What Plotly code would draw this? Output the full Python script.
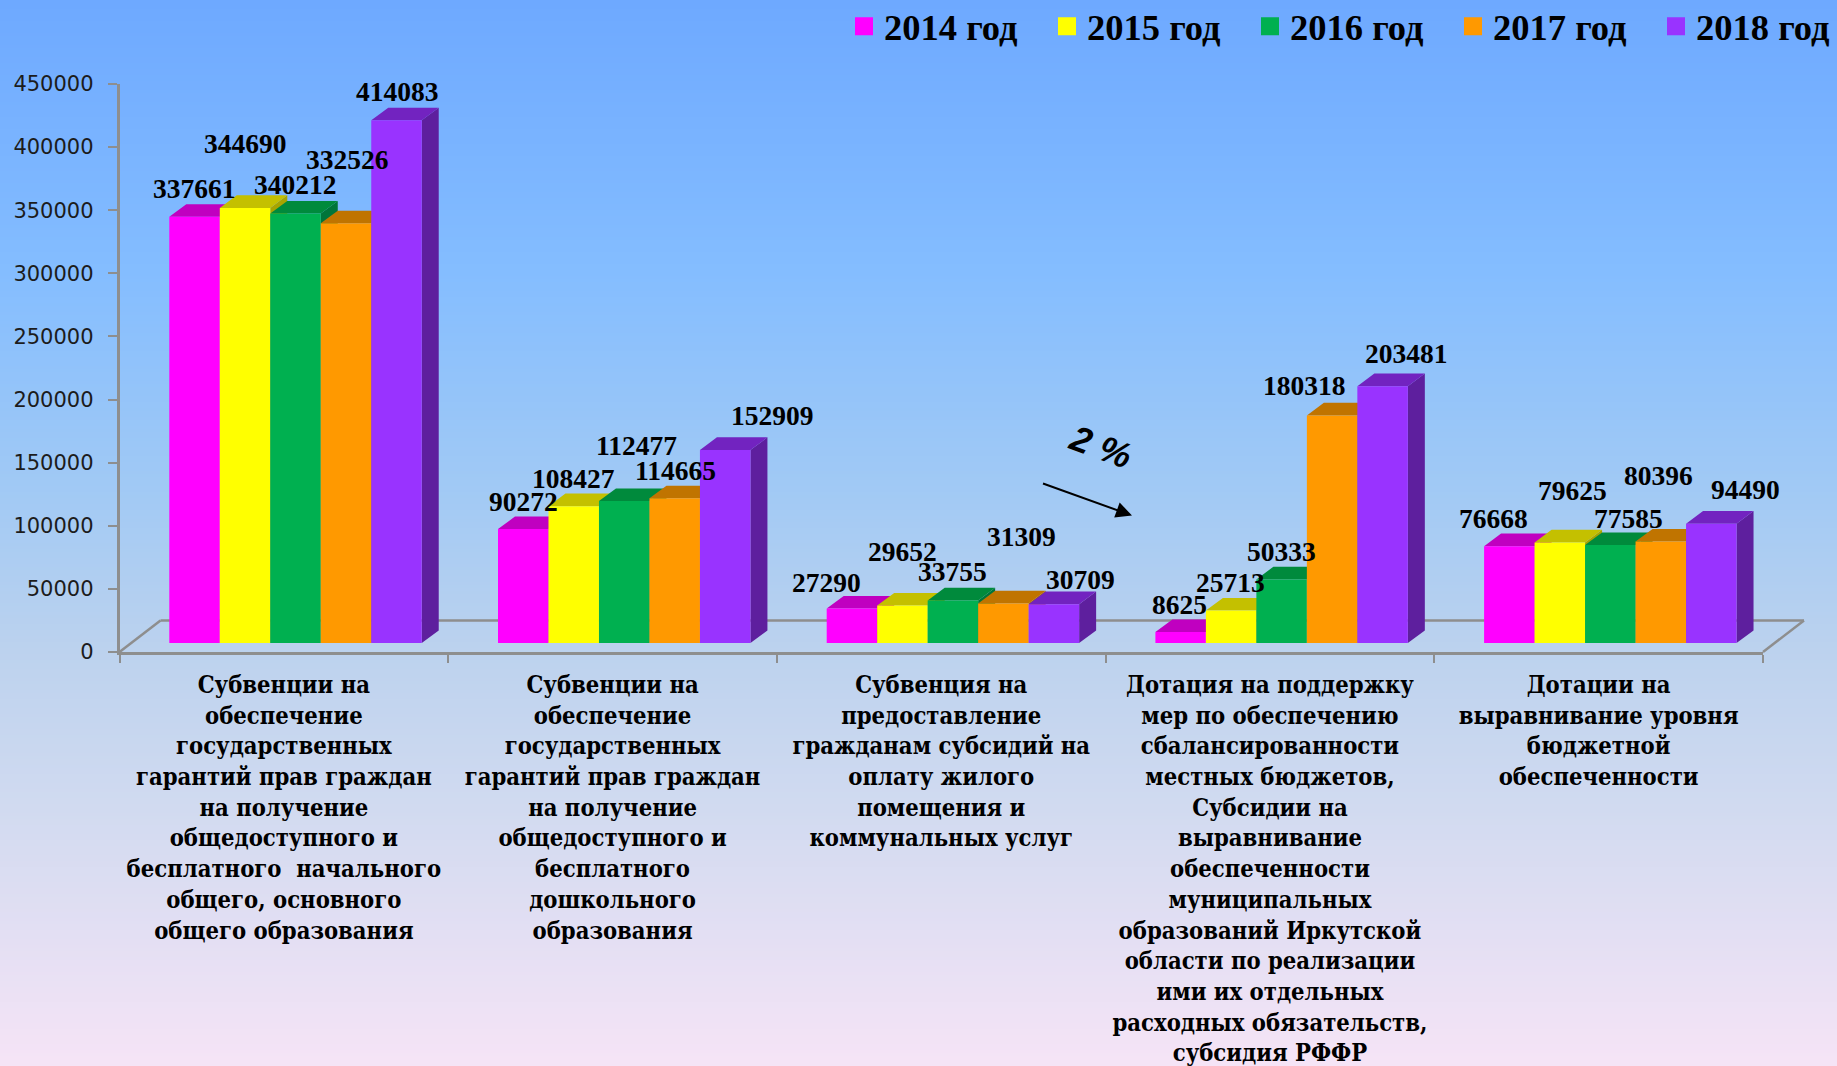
import plotly.graph_objects as go

W, H = 1837, 1066

# ---- data ----
categories = [
    "Субвенции на<br>обеспечение<br>государственных<br>гарантий прав граждан<br>на получение<br>общедоступного и<br>бесплатного  начального<br>общего, основного<br>общего образования",
    "Субвенции на<br>обеспечение<br>государственных<br>гарантий прав граждан<br>на получение<br>общедоступного и<br>бесплатного<br>дошкольного<br>образования",
    "Субвенция на<br>предоставление<br>гражданам субсидий на<br>оплату жилого<br>помещения и<br>коммунальных услуг",
    "Дотация на поддержку<br>мер по обеспечению<br>сбалансированности<br>местных бюджетов,<br>Субсидии на<br>выравнивание<br>обеспеченности<br>муниципальных<br>образований Иркутской<br>области по реализации<br>ими их отдельных<br>расходных обязательств,<br>субсидия РФФР",
    "Дотации на<br>выравнивание уровня<br>бюджетной<br>обеспеченности",
]
category_x = [0.5, 1.5, 2.5, 3.5, 4.5]
series_names = ["2014 год", "2015 год", "2016 год", "2017 год", "2018 год"]
values_2014 = [337661, 90272, 27290, 8625, 76668]
values_2015 = [344690, 108427, 29652, 25713, 79625]
values_2016 = [340212, 112477, 33755, 50333, 77585]
values_2017 = [332526, 114665, 31309, 180318, 80396]
values_2018 = [414083, 152909, 30709, 203481, 94490]
y_ticks = [0, 50000, 100000, 150000, 200000, 250000, 300000, 350000, 400000, 450000]

# ---- styles ----
front_colors = ["#FF00FF", "#FFFF00", "#00B050", "#FF9900", "#9933FF"]
top_colors = ["#C000C0", "#C4C000", "#008A3C", "#C07400", "#7223C0"]
side_colors = ["#A000A0", "#A8A400", "#00753A", "#A86400", "#5E1F9E"]
label_dx = [
    [0, 0, 0, 1, 1],
    [0, 0, 12, 1, 47],
    [-25, 0, 0, 18, 27],
    [-1, -1, 0, -28, 24],
    [-16, 13, 18, -2, 34],
]
label_dy = [
    [-28, -64, -29, -64, -29],
    [-28, -28, -56, -28, -35],
    [-26, -54, -29, -67, -25],
    [-28, -28, -28, -30, -33],
    [-28, -52, -27, -66, -34],
]
GRAY = "#8E8E8E"
LABEL_FONT = "Liberation Serif"

all_values = [values_2014, values_2015, values_2016, values_2017, values_2018]

# ---- frame (pixels → paper) ----
PX_L, PX_R, PX_T, PX_B = 119.5, 1763, 84, 652
def fx(px): return px / W
def fy(py): return 1 - py / H

bar_w = 0.1536
bar_left = -0.3485
depth_x = 0.0517
depth_y = 10000
base_lift = 7130

fig = go.Figure()

# 3D side and top faces (painted under the front faces)
for s, vals in enumerate(all_values):
    sx, sy, tx, ty = [], [], [], []
    for g, v in enumerate(vals):
        l = category_x[g] + bar_left + s * bar_w
        r = l + bar_w
        sx += [r, r + depth_x, r + depth_x, r, None]
        sy += [v, v + depth_y, depth_y, 0, None]
        tx += [l, l + depth_x, r + depth_x, r, None]
        ty += [v, v + depth_y, v + depth_y, v, None]
    fig.add_trace(go.Scatter(x=sx, y=sy, xaxis="x", yaxis="y2", mode="lines", line=dict(width=0),
                             fill="toself", fillcolor=side_colors[s], showlegend=False, hoverinfo="skip"))
    fig.add_trace(go.Scatter(x=tx, y=ty, xaxis="x", yaxis="y2", mode="lines", line=dict(width=0),
                             fill="toself", fillcolor=top_colors[s], showlegend=False, hoverinfo="skip"))

# front faces
for s, vals in enumerate(all_values):
    fig.add_trace(go.Bar(x=category_x, y=vals, name=series_names[s], xaxis="x", yaxis="y3",
                         width=bar_w, offset=bar_left + s * bar_w,
                         marker=dict(color=front_colors[s], line=dict(width=0)),
                         legendgroup=series_names[s], showlegend=False))

# legend entries
for s, name in enumerate(series_names):
    fig.add_trace(go.Scatter(x=[None], y=[None], name=name, xaxis="x", yaxis="y", mode="markers",
                             legendgroup=name,
                             marker=dict(symbol="square", size=16, color=front_colors[s],
                                         line=dict(width=2, color=front_colors[s]))))

# data labels
annotations = []
for s, vals in enumerate(all_values):
    for g, v in enumerate(vals):
        annotations.append(dict(
            x=category_x[g] + bar_left + (s + 0.5) * bar_w, y=v, xref="x", yref="y3",
            text=str(v), showarrow=False, xshift=label_dx[g][s], yshift=-label_dy[g][s],
            font=dict(family=LABEL_FONT, size=27.5, color="black", weight="bold"),
            xanchor="center", yanchor="middle"))

# arrow and "2 %"
annotations.append(dict(x=fx(1132), y=fy(515.5), xref="paper", yref="paper", text="",
                        showarrow=True, ax=-90.5, ay=-32.5, arrowhead=2, arrowsize=1.6,
                        arrowwidth=2, arrowcolor="black"))
annotations.append(dict(x=fx(1100), y=fy(447), xref="paper", yref="paper", text="<b><i>2 %</i></b>",
                        showarrow=False, textangle=20,
                        font=dict(family="Liberation Sans", size=36, color="black")))

# background gradient, painted top to bottom
stops = [(0, (0x6E, 0xA9, 0xFF)), (270, (0x84, 0xBD, 0xFF)), (480, (0xA0, 0xC9, 0xF5)),
         (650, (0xBC, 0xD2, 0xEE)), (800, (0xD0, 0xDA, 0xF0)), (1066, (0xF6, 0xE4, 0xF6))]
def grad(py):
    for (a, ca), (b, cb) in zip(stops, stops[1:]):
        if py <= b:
            t = (py - a) / (b - a)
            return "rgb(%d,%d,%d)" % tuple(round(p + (q - p) * t) for p, q in zip(ca, cb))
    return "rgb(%d,%d,%d)" % stops[-1][1]

shapes = [dict(type="rect", xref="paper", yref="paper", x0=0, x1=1, y0=0, y1=fy(py),
               fillcolor=grad(py), line=dict(width=0), layer="below")
          for py in range(0, H, 3)]

# floor of the 3D box
FLOOR_BACK_Y, FLOOR_DX = 620.5, 41
for (x0, y0, x1, y1) in [
    (PX_L, PX_B, PX_L + FLOOR_DX, FLOOR_BACK_Y),
    (PX_L + FLOOR_DX, FLOOR_BACK_Y, PX_R + FLOOR_DX, FLOOR_BACK_Y),
    (PX_R + FLOOR_DX, FLOOR_BACK_Y, PX_R, PX_B),
]:
    shapes.append(dict(type="line", xref="paper", yref="paper", x0=fx(x0), y0=fy(y0), x1=fx(x1), y1=fy(y1),
                       line=dict(color=GRAY, width=2.5), layer="below"))

y_range = [0, 450000]
lifted = [-base_lift, 450000 - base_lift]

fig.update_layout(
    width=W, height=H, autosize=False,
    margin=dict(l=0, r=0, t=0, b=0, pad=0, autoexpand=False),
    paper_bgcolor="#BCD2EE", plot_bgcolor="rgba(0,0,0,0)",
    barmode="overlay",
    shapes=shapes, annotations=annotations,
    legend=dict(orientation="h", x=fx(844), xanchor="left", y=fy(-4), yanchor="top",
                bgcolor="rgba(0,0,0,0)", itemwidth=30, entrywidth=158, entrywidthmode="pixels",
                itemsizing="trace", traceorder="normal",
                font=dict(family=LABEL_FONT, size=36.5, color="black", weight="bold")),
    xaxis=dict(domain=[fx(PX_L), fx(PX_R)], range=[0, 5], anchor="y",
               tickmode="array", tickvals=category_x, ticktext=categories, ticks="", tickangle=0,
               ticklabelstandoff=10,
               tickfont=dict(family="DejaVu Serif Condensed", size=23.6, color="black", weight="bold"),
               showgrid=False, zeroline=False, showline=True, linecolor=GRAY, linewidth=2.5,
               minor=dict(tickmode="array", tickvals=[0, 1, 2, 3, 4, 5], ticks="outside",
                          ticklen=8, tickwidth=2, tickcolor=GRAY, showgrid=False)),
    yaxis=dict(domain=[fy(PX_B), fy(PX_T)], range=y_range, anchor="x",
               tickmode="array", tickvals=y_ticks, ticktext=[str(t) for t in y_ticks],
               ticks="outside", ticklen=9, tickwidth=2, tickcolor=GRAY, ticklabelstandoff=10,
               tickfont=dict(family="DejaVu Sans", size=21, color="#1c1c1c"),
               showgrid=False, zeroline=False, showline=True, linecolor=GRAY, linewidth=2.5),
    yaxis2=dict(overlaying="y", range=lifted, visible=False, anchor="x"),
    yaxis3=dict(overlaying="y", range=lifted, visible=False, anchor="x"),
)

fig.write_html("out.html", config={"displayModeBar": False},
               post_script="document.body.style.margin='0';document.body.style.overflow='hidden';")
